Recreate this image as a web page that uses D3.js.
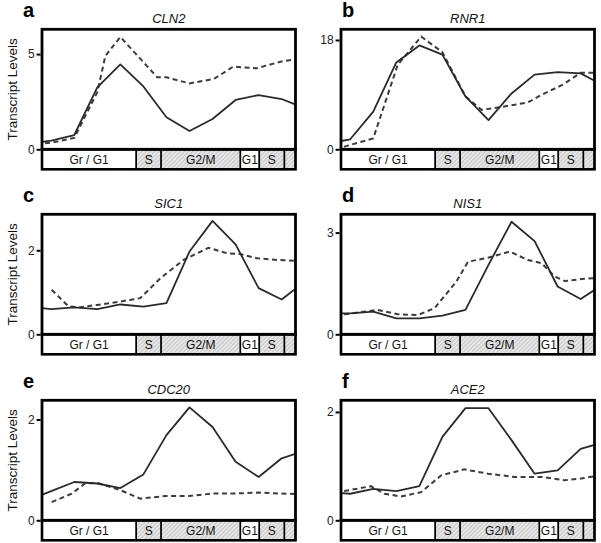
<!DOCTYPE html>
<html><head><meta charset="utf-8">
<script src="https://cdn.jsdelivr.net/npm/d3@7"></script>
<style>body{margin:0;background:#fff}svg{display:block}</style>
</head><body><svg id="c" width="601" height="543"></svg>
<script>
// ---- data ----
const genes = ["CLN2","RNR1","SIC1","NIS1","CDC20","ACE2"];
const letters = ["a","b","c","d","e","f"];
const yMax = [6.3, 19.76, 2.857, 3.54, 2.38, 2.215];
const yTicks = [[0,5],[0,18],[0,2],[0,3],[0,2],[0,2]];
const tSolid = [-6,4,14,24,34,44,54,64,74,84,94,104,114];
const solidCLN2  = [0.30,0.45,0.75,3.25,4.46,3.30,1.68,0.96,1.59,2.59,2.85,2.64,2.15];
const solidRNR1  = [0.95,1.65,6.2,14.3,17.1,15.6,8.7,4.8,9.2,12.3,12.7,12.5,10.5];
const solidSIC1  = [0.66,0.60,0.64,0.60,0.71,0.66,0.74,1.97,2.70,2.14,1.10,0.83,1.25];
const solidNIS1  = [0.62,0.62,0.67,0.47,0.47,0.55,0.72,2.05,3.32,2.75,1.41,1.04,1.49];
const solidCDC20 = [0.40,0.58,0.76,0.73,0.64,0.91,1.69,2.24,1.85,1.16,0.86,1.23,1.38];
const solidACE2  = [0.52,0.49,0.58,0.54,0.63,1.54,2.07,2.07,1.48,0.86,0.92,1.32,1.44];
const dashTCLN2  = [-6,4,14,24,27.5,34,50,54,64,74.5,83,93,103.5,114];
const dashCLN2   = [0.22,0.35,0.6,3.0,4.9,5.9,3.78,3.78,3.46,3.69,4.34,4.25,4.6,4.8];
const dashTRNR1  = [-6,1.5,14,24.6,34.8,44,54,61,70,81,87,96,104,114];
const dashRNR1   = [0.1,0.44,1.8,13.9,18.55,16.0,8.7,6.5,7.0,7.7,8.95,10.6,12.6,12.6];
const dashTSIC1  = [4.2,11.4,16,24,34,42.6,51.3,61.4,72.3,80.3,86,93.3,102,114];
const dashSIC1   = [1.06,0.67,0.64,0.70,0.78,0.86,1.33,1.77,2.06,1.93,1.91,1.81,1.77,1.74];
const dashTNIS1  = [-6,1.5,15.9,24.6,33.4,40.6,50,55.1,63.8,73.2,81.2,87,92.8,97.1,104.3,114];
const dashNIS1   = [0.58,0.59,0.72,0.59,0.57,0.77,1.55,2.14,2.26,2.44,2.19,2.10,1.70,1.57,1.63,1.68];
const dashTCDC20 = [4.2,12.9,18.7,24,33.9,42.6,53.5,63.6,74,83,94,103.5,114];
const dashCDC20  = [0.36,0.53,0.73,0.74,0.60,0.43,0.48,0.48,0.53,0.53,0.55,0.53,0.52];
const dashTACE2  = [-6,1.45,13,18.8,26,34.8,43.5,53.6,63.8,75.4,87,97,104,114];
const dashACE2   = [0.52,0.54,0.63,0.49,0.44,0.52,0.83,0.94,0.86,0.80,0.80,0.74,0.77,0.84];
const phaseNames  = ["Gr / G1","S","G2/M","G1","S",""];
const phaseStarts = [0,40.9,51.7,86.1,94.3,105.2];
const phaseEnds   = [40.9,51.7,86.1,94.3,105.2,110];
const phaseHatch  = [false,true,true,false,true,true];

const solids = [solidCLN2,solidRNR1,solidSIC1,solidNIS1,solidCDC20,solidACE2];
const dashT = [dashTCLN2,dashTRNR1,dashTSIC1,dashTNIS1,dashTCDC20,dashTACE2];
const dashV = [dashCLN2,dashRNR1,dashSIC1,dashNIS1,dashCDC20,dashACE2];

// ---- layout ----
const colX = [42, 341];
const rowTop = [29.3, 214.3, 400.3];
const plotW = 253.5, plotH = 120, barH = 20;
const font = "Liberation Sans, Arial, sans-serif";

const svg = d3.select("#c");
const defs = svg.append("defs");
const pat = defs.append("pattern").attr("id","hatch").attr("patternUnits","userSpaceOnUse")
  .attr("width",3).attr("height",3).attr("patternTransform","rotate(45)");
pat.append("rect").attr("width",3).attr("height",3).attr("fill","#e6e6e6");
pat.append("line").attr("x1",0).attr("y1",0).attr("x2",0).attr("y2",3)
  .attr("stroke","#a0a0a0").attr("stroke-width",0.9);

genes.forEach((g,i)=>{
  const col = i%2, row = Math.floor(i/2);
  const x0 = colX[col], y0 = rowTop[row];
  const x = d3.scaleLinear().domain([0,110]).range([x0, x0+plotW]);
  const y = d3.scaleLinear().domain([0,yMax[i]]).range([y0+plotH, y0]);
  const G = svg.append("g");

  defs.append("clipPath").attr("id","clip"+i).append("rect")
    .attr("x",x0).attr("y",y0).attr("width",plotW).attr("height",plotH);

  // phase bar
  const by = y0+plotH;
  phaseNames.forEach((p,k)=>{
    G.append("rect").attr("x",x(phaseStarts[k])).attr("y",by)
      .attr("width",x(phaseEnds[k])-x(phaseStarts[k])).attr("height",barH)
      .attr("fill",phaseHatch[k]?"url(#hatch)":"#fff")
      .attr("stroke","#000").attr("stroke-width",1.5);
    if(p) G.append("text").attr("x",(x(phaseStarts[k])+x(phaseEnds[k]))/2).attr("y",by+barH/2+4.3)
      .attr("text-anchor","middle").attr("font-family",font).attr("font-size",12)
      .attr("fill","#111").text(p);
  });
  G.append("rect").attr("x",x0).attr("y",by).attr("width",plotW).attr("height",barH)
    .attr("fill","none").attr("stroke","#000").attr("stroke-width",2.6);

  // lines
  const lg = G.append("g").attr("clip-path","url(#clip"+i+")");
  const line = d3.line().x(d=>x(d[0])).y(d=>y(d[1]));
  lg.append("path").datum(dashT[i].map((t,k)=>[t,dashV[i][k]])).attr("d",line)
    .attr("fill","none").attr("stroke","#3c3c3c").attr("stroke-width",2)
    .attr("stroke-dasharray","5,3.5");
  lg.append("path").datum(tSolid.map((t,k)=>[t,solids[i][k]])).attr("d",line)
    .attr("fill","none").attr("stroke","#2a2a2a").attr("stroke-width",1.8)
    .attr("stroke-linejoin","round");

  // frame
  G.append("rect").attr("x",x0).attr("y",y0).attr("width",plotW).attr("height",plotH)
    .attr("fill","none").attr("stroke","#000").attr("stroke-width",2.8);

  // y axis ticks
  const ax = G.append("g").attr("transform",`translate(${x0-1.4},0)`)
    .call(d3.axisLeft(y).tickValues(yTicks[i]).tickSize(4).tickPadding(2).tickFormat(d3.format("d")));
  ax.select(".domain").remove();
  ax.selectAll("line").attr("stroke","#000").attr("stroke-width",2);
  ax.selectAll("text").attr("font-family",font).attr("font-size",12).attr("fill","#222");

  // title
  G.append("text").attr("x",x0+plotW/2).attr("y",y0-6).attr("text-anchor","middle")
    .attr("font-family",font).attr("font-size",13).attr("font-style","italic")
    .attr("fill","#111").text(g);
  // letter
  G.append("text").attr("x",col===0?23:342).attr("y",y0-12.5)
    .attr("font-family",font).attr("font-size",20).attr("font-weight","bold")
    .attr("fill","#000").text(letters[i]);
  // y label
  if(col===0){
    G.append("text").attr("transform",`translate(17,${y0+plotH/2}) rotate(-90)`)
      .attr("text-anchor","middle").attr("font-family",font).attr("font-size",13.5)
      .attr("fill","#111").text("Transcript Levels");
  }
});
</script></body></html>
